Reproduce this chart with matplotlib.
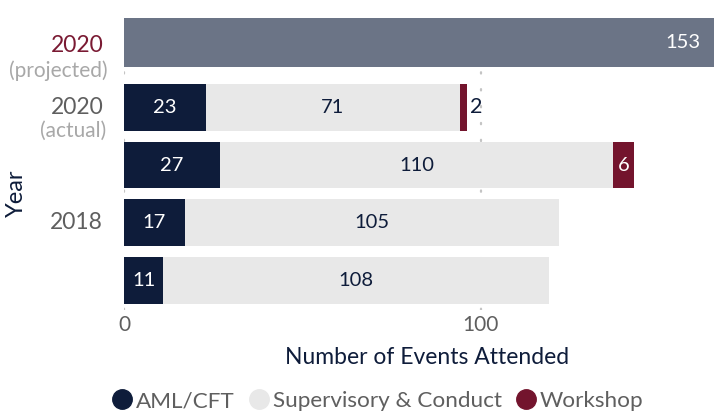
import matplotlib.pyplot as plt
import matplotlib.transforms as mtransforms
from matplotlib.lines import Line2D

# data (top to bottom)
years = ['2020', '2019', '2018', '2017']
year_notes = ['(actual)', '', '', '']
show_label = [True, False, True, False]
aml = [23, 27, 17, 11]
supervisory = [71, 110, 105, 108]
workshop = [2, 6, 0, 0]
projected_year = '2020'
projected_note = '(projected)'
projected_total = 153

NAVY = '#0e1c3a'
LIGHT = '#e8e8e8'
MAROON = '#73142d'
SLATE = '#6b7486'
TICK_GREY = '#5f5f5f'
NOTE_GREY = '#a8a8a8'

plt.rcParams['font.family'] = ['Lato', 'DejaVu Sans']

fig = plt.figure(figsize=(7.14, 4.16), dpi=100)
ax = fig.add_axes([124 / 714, 1 - 309.5 / 416, 590 / 714, (309.5 - 18) / 416])

rows = list(range(len(years)))
proj_y = -1.12
h = 0.81

# grid lines behind bars
for gx in [0, 100]:
    ax.axvline(gx, color='#c4c4c4', lw=1.6, ls=(0, (0.6, 7)), zorder=0, dash_capstyle='round')

left_sup = aml
left_ws = [a + s for a, s in zip(aml, supervisory)]
ax.barh(rows, aml, height=h, color=NAVY, zorder=2)
ax.barh(rows, supervisory, left=left_sup, height=h, color=LIGHT, zorder=2)
ax.barh(rows, workshop, left=left_ws, height=h, color=MAROON, zorder=2)

for i in rows:
    ax.text(aml[i] / 2, i, str(aml[i]), color='white', ha='center', va='center', fontsize=14.5, zorder=3)
    ax.text(aml[i] + supervisory[i] / 2, i, str(supervisory[i]), color=NAVY,
            ha='center', va='center', fontsize=14.5, zorder=3)
    if workshop[i] >= 5:
        ax.text(left_ws[i] + workshop[i] / 2, i, str(workshop[i]), color='white',
                ha='center', va='center', fontsize=14.5, zorder=3)
    elif workshop[i] > 0:
        ax.text(left_ws[i] + workshop[i] + 1, i, str(workshop[i]), color=NAVY,
                ha='left', va='center', fontsize=15.5, zorder=3)

ax.set_xlim(0, 165.3)
ax.set_ylim(3.5, -1.545)

# projected bar on its own scale
ax2 = ax.twiny()
ax2.set_xlim(0, projected_total)
ax2.barh([proj_y], [projected_total], height=0.845, color=SLATE, zorder=2)
ax2.annotate(str(projected_total), (projected_total, proj_y), xytext=(-10, 0),
             textcoords='offset points', color='white', ha='right', va='center', fontsize=14.5)
ax2.axis('off')

for s in ax.spines.values():
    s.set_visible(False)

ax.set_yticks([])
ax.set_xticks([0, 100])
ax.set_xticklabels(['0', '100'])
ax.tick_params(axis='x', length=0, pad=4, labelsize=15, labelcolor=TICK_GREY)

# y labels
trans = mtransforms.blended_transform_factory(ax.transAxes, ax.transData)
ax.annotate(projected_year, (0, proj_y), xycoords=trans, xytext=(-15, -2),
            textcoords='offset points', ha='right', va='center', fontsize=16.5, color='#7a1a33')
ax.annotate(projected_note, (0, proj_y), xycoords=trans, xytext=(-12, -20),
            textcoords='offset points', ha='right', va='center', fontsize=15, color=NOTE_GREY)
for i in rows:
    if show_label[i]:
        ax.annotate(years[i], (0, i), xycoords=trans, xytext=(-15, 0),
                    textcoords='offset points', ha='right', va='center', fontsize=16.5, color=TICK_GREY)
    if year_notes[i]:
        ax.annotate(year_notes[i], (0, i), xycoords=trans, xytext=(-13, -17),
                    textcoords='offset points', ha='right', va='center', fontsize=15, color=NOTE_GREY)

fig.text(16 / 714, 1 - 193 / 416, 'Year', rotation=90, ha='center', va='center', fontsize=17, color=NAVY)
fig.text(427 / 714, 1 - 357 / 416, 'Number of Events Attended', ha='center', va='center',
         fontsize=16.5, color=NAVY)

handles = [Line2D([], [], marker='o', ls='', ms=14, color=c) for c in (NAVY, LIGHT, MAROON)]
fig.legend(handles, ['AML/CFT', 'Supervisory & Conduct', 'Workshop'], loc='center',
           bbox_to_anchor=(376 / 714, 1 - 401 / 416), ncol=3, frameon=False, fontsize=16.2,
           handletextpad=0.0, columnspacing=0.5, handlelength=1.2, labelcolor=TICK_GREY)

fig.savefig('out.png', dpi=100)
